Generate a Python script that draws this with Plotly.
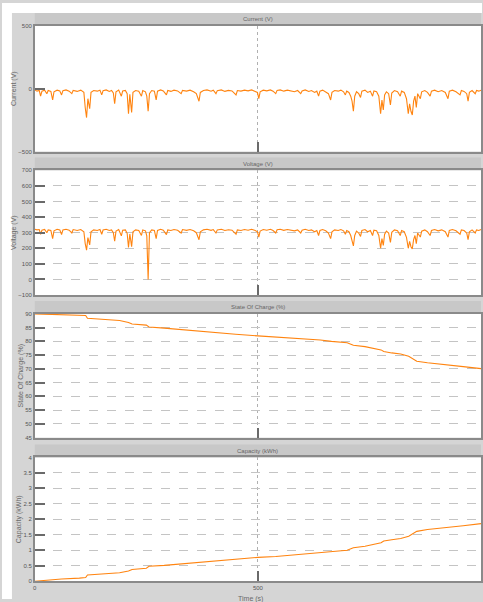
import plotly.graph_objects as go

# ---- drive log: current / voltage samples (time in s) ----
time_s = [0, 5, 10, 13, 16, 22, 27, 30, 36, 40, 43, 50, 56, 60, 63, 70, 77, 83, 86, 95,
          103, 110, 113, 116, 119, 123, 126, 132, 140, 146, 150, 153, 160, 167, 172, 176, 179, 182, 188, 194,
          197, 203, 207, 210, 213, 217, 220, 226, 233, 239, 242, 248, 251, 254, 257, 262, 268, 272, 275, 282,
          288, 295, 298, 305, 312, 320, 328, 331, 340, 348, 356, 362, 368, 371, 378, 386, 395, 400, 406, 409,
          418, 426, 434, 442, 451, 454, 462, 470, 478, 486, 494, 499, 502, 505, 512, 520, 528, 534, 540, 543,
          550, 558, 566, 574, 582, 589, 596, 599, 606, 614, 620, 627, 632, 636, 639, 645, 652, 658, 663, 666,
          672, 680, 686, 692, 696, 699, 704, 708, 711, 714, 717, 721, 726, 730, 733, 740, 746, 752, 757, 760,
          766, 771, 775, 778, 781, 784, 788, 793, 797, 800, 806, 813, 819, 822, 828, 833, 837, 840, 843, 846,
          849, 852, 855, 858, 864, 867, 874, 880, 886, 889, 896, 904, 912, 920, 926, 929, 936, 944, 953, 956,
          962, 968, 971, 974, 980, 987, 990, 995, 1000]

current_a = [-10, -20, -15, -60, -20, -12, -40, -15, -22, -90, -25, -12, -18, -50, -16, -10, -20, -40, -14, -22,
             -12, -30, -150, -230, -80, -160, -30, -15, -20, -12, -50, -16, -10, -22, -15, -35, -120, -25, -12, -60,
             -18, -14, -40, -200, -45, -190, -30, -15, -20, -60, -15, -25, -60, -180, -40, -15, -20, -90, -20, -10,
             -18, -50, -15, -22, -12, -18, -40, -14, -20, -12, -25, -40, -100, -30, -15, -10, -20, -12, -40, -16,
             -10, -22, -14, -18, -50, -15, -20, -12, -18, -10, -22, -30, -80, -25, -12, -18, -10, -20, -40, -14,
             -10, -20, -12, -18, -25, -15, -40, -18, -10, -22, -15, -30, -20, -60, -20, -12, -25, -40, -90, -30,
             -15, -20, -12, -25, -50, -20, -30, -60, -100, -180, -60, -25, -40, -70, -20, -12, -30, -20, -60, -18,
             -25, -60, -200, -90, -170, -50, -25, -40, -130, -35, -15, -25, -60, -20, -30, -80, -200, -120, -180, -210,
             -100, -60, -150, -40, -80, -25, -15, -30, -60, -20, -12, -25, -15, -30, -80, -20, -12, -25, -50, -15,
             -22, -40, -100, -30, -15, -40, -15, -20, -12]

voltage_v = [322, 318, 320, 290, 316, 321, 300, 318, 314, 262, 312, 322, 318, 288, 318, 322, 316, 298, 320, 314,
             320, 306, 230, 188, 268, 222, 305, 318, 314, 320, 290, 317, 322, 314, 318, 300, 245, 310, 320, 280,
             316, 318, 296, 205, 292, 210, 305, 318, 314, 282, 318, 312, 280, 0, 300, 318, 314, 262, 314, 322,
             316, 288, 318, 314, 320, 316, 298, 320, 315, 320, 312, 300, 255, 305, 318, 322, 315, 320, 298, 318,
             322, 314, 319, 316, 290, 318, 314, 320, 316, 322, 314, 306, 272, 310, 320, 316, 322, 314, 298, 319,
             322, 315, 320, 316, 312, 318, 298, 316, 322, 314, 318, 306, 314, 282, 314, 320, 312, 298, 262, 305,
             318, 314, 320, 312, 290, 314, 306, 282, 256, 215, 282, 310, 298, 276, 314, 320, 306, 314, 282, 316,
             312, 282, 200, 262, 218, 290, 310, 298, 238, 302, 318, 312, 282, 314, 306, 270, 200, 245, 210, 196,
             256, 282, 230, 298, 272, 310, 318, 306, 282, 314, 320, 312, 318, 306, 272, 314, 320, 312, 290, 318,
             314, 298, 255, 305, 318, 298, 318, 314, 320]

# ---- battery state (time in s) ----
soc_time_s = [0, 30, 60, 100, 114, 118, 150, 190, 210, 218, 250, 256, 290, 330, 370, 410, 450, 500, 540, 600,
              640, 665, 700, 714, 740, 776, 782, 800, 820, 838, 848, 856, 880, 920, 960, 1000]
soc_pct = [90.0, 89.9, 89.8, 89.6, 89.4, 88.4, 88.1, 87.6, 86.9, 86.3, 85.9, 85.2, 84.8, 84.2, 83.6, 83.1, 82.6,
           82.0, 81.6, 80.9, 80.5, 80.0, 79.5, 78.6, 78.1, 76.9, 76.3, 75.8, 75.4, 74.6, 73.5, 72.8, 72.2, 71.6,
           70.8, 70.1]
capacity_kwh = [0.00, 0.04, 0.07, 0.10, 0.12, 0.20, 0.23, 0.27, 0.33, 0.38, 0.42, 0.48, 0.51, 0.56, 0.62, 0.66,
                0.71, 0.77, 0.80, 0.87, 0.91, 0.96, 1.00, 1.08, 1.13, 1.24, 1.30, 1.34, 1.38, 1.45, 1.55, 1.61,
                1.67, 1.72, 1.79, 1.86]

panel_titles = ["Current (V)", "Voltage (V)", "State Of Charge (%)", "Capacity (kWh)"]
y_titles = ["Current (V)", "Voltage (V)", "State Of Charge (%)", "Capacity (kWh)"]
y_ranges = [[-500, 500], [-100, 700], [45, 90], [0, 4]]
y_ticks = [[-500, 0, 500],
           [-100, 0, 100, 200, 300, 400, 500, 600, 700],
           [45, 50, 55, 60, 65, 70, 75, 80, 85, 90],
           [0, 0.5, 1, 1.5, 2, 2.5, 3, 3.5, 4]]
x_ticks = [0, 500, 1000]

W, H = 483, 602
LINE = "#ff8410"
BG = "#d5d5d5"
BAR = "#c8c8c8"
FONT = "Liberation Sans"

# pixel geometry of the four panels (top, bottom)
panels_px = [(23, 150), (169, 295), (314, 439), (459, 584)]
left_px, right_px = 33, 482

series = [(time_s, current_a), (time_s, voltage_v), (soc_time_s, soc_pct), (soc_time_s, capacity_kwh)]

fig = go.Figure()
# white page margin along the top and left edges of the grey window
shapes = [
    dict(type="rect", xref="paper", yref="paper", x0=0, x1=1, y0=1 - 10 / H, y1=1,
         fillcolor="white", line_width=0, layer="below"),
    dict(type="rect", xref="paper", yref="paper", x0=0, x1=10 / W, y0=0, y1=1,
         fillcolor="white", line_width=0, layer="below"),
]
annotations = []

for i, ((xs, ys), (top, bot)) in enumerate(zip(series, panels_px)):
    n = "" if i == 0 else str(i + 1)
    fig.add_trace(go.Scatter(x=xs, y=ys, mode="lines", line=dict(color=LINE, width=1.1),
                             xaxis="x" + n, yaxis="y" + n, showlegend=False, hoverinfo="skip"))
    dom_y = [1 - bot / H, 1 - top / H]
    fig.layout["xaxis" + n] = dict(
        domain=[left_px / W, right_px / W], range=[0, 1000], anchor="y" + n,
        tickvals=x_ticks, showticklabels=(i == 3), ticks="inside", ticklen=10, tickwidth=2,
        tickcolor="#6a6a6a", showgrid=True, gridcolor="#b0b0b0", griddash="dot", gridwidth=1,
        showline=True, mirror=True, linecolor="#8a8a8a", linewidth=1.5, zeroline=False,
        tickfont=dict(size=6, color="#555", family=FONT))
    fig.layout["yaxis" + n] = dict(
        domain=dom_y, range=y_ranges[i], anchor="x" + n, tickvals=y_ticks[i],
        ticks="inside", ticklen=10, tickwidth=2, tickcolor="#6a6a6a",
        showgrid=(i != 0), gridcolor="#c4c4c4", griddash="dash", gridwidth=1,
        showline=True, mirror=True, linecolor="#8a8a8a", linewidth=1.5, zeroline=False,
        tickfont=dict(size=6, color="#555", family=FONT),
        title=dict(text=y_titles[i], font=dict(size=7, color="#6a6a6a", family=FONT), standoff=1))
    # title strip above each panel
    bar_top = top - 13 if i > 0 else 10
    shapes.append(dict(type="rect", xref="paper", yref="paper", x0=left_px / W, x1=right_px / W,
                       y0=1 - top / H, y1=1 - bar_top / H, fillcolor=BAR, line_width=0, layer="below"))
    annotations.append(dict(text=panel_titles[i], xref="paper", yref="paper",
                            x=(left_px + right_px) / 2 / W, y=1 - (top - 6.5) / H,
                            xanchor="center", yanchor="middle", showarrow=False,
                            font=dict(size=6, color="#666", family=FONT)))

annotations.append(dict(text="Time (s)", xref="paper", yref="paper", x=250 / W, y=1 - 602 / H,
                        xanchor="center", yanchor="middle", showarrow=False,
                        font=dict(size=7, color="#6a6a6a", family=FONT)))

fig.update_layout(width=W, height=H, margin=dict(l=0, r=0, t=0, b=0),
                  paper_bgcolor=BG, plot_bgcolor="white",
                  shapes=shapes, annotations=annotations, font=dict(family=FONT))

fig.write_html("out.html")
